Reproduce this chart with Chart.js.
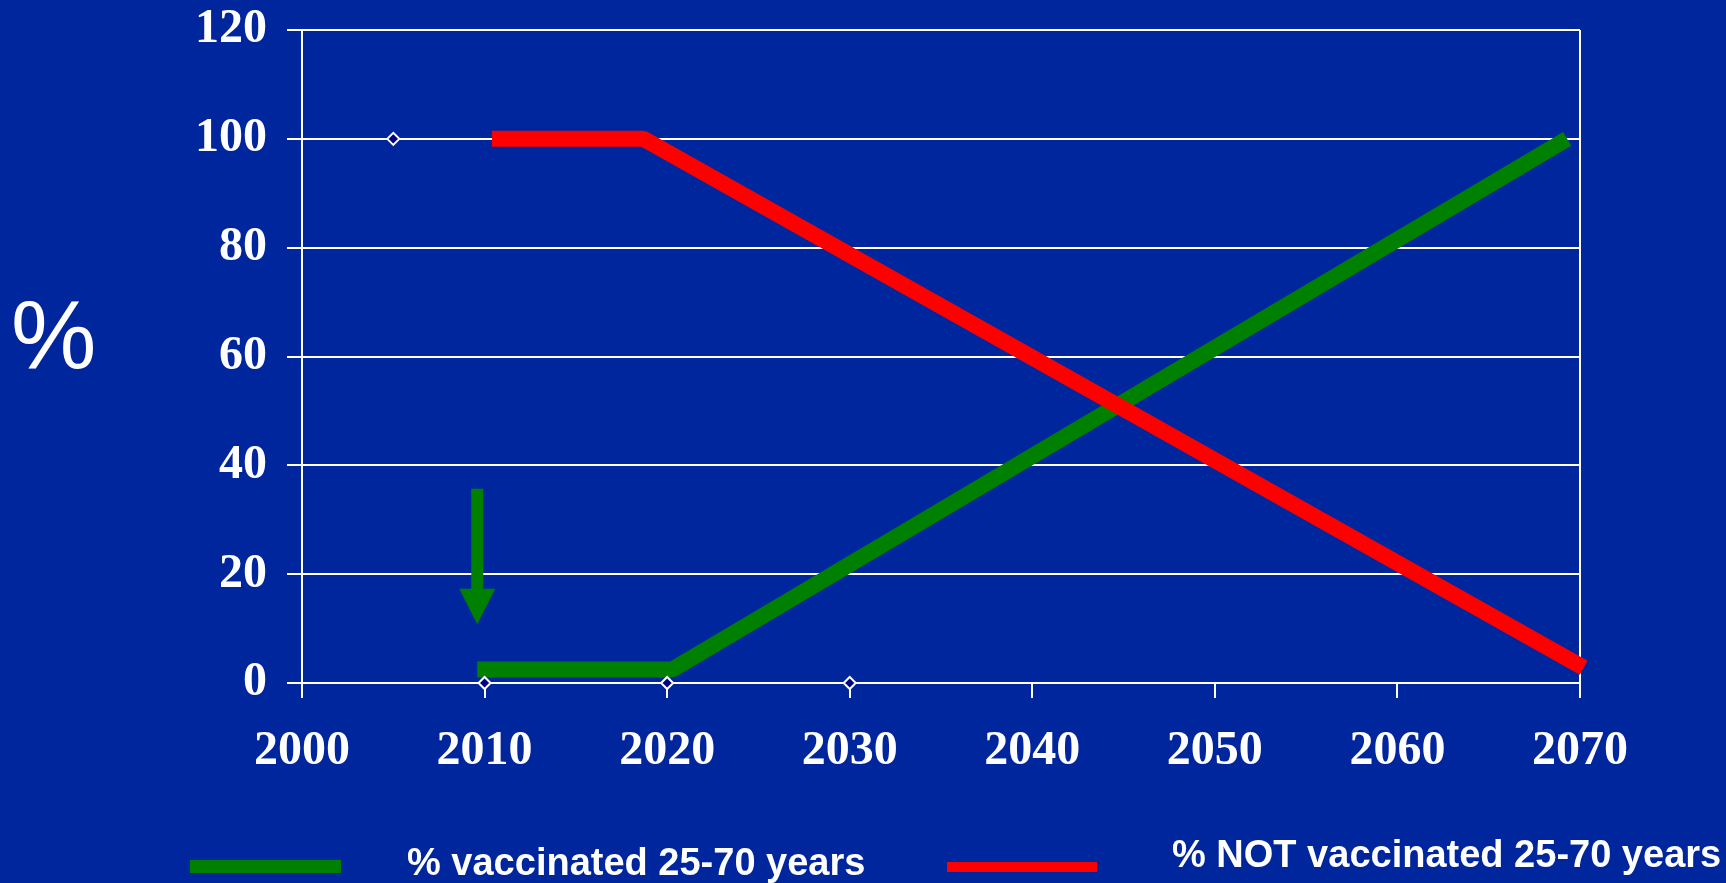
<!DOCTYPE html>
<html>
<head>
<meta charset="utf-8">
<script src="https://cdn.jsdelivr.net/npm/chart.js@4/dist/chart.umd.min.js"></script>
<style>
  html, body { margin: 0; padding: 0; background: #00269e; }
  #wrap { width: 1726px; height: 883px; position: relative; }
</style>
</head>
<body>
<div id="wrap"><canvas id="vaccChart"></canvas></div>
<script>
// axis ticks
var xTicks = [2000, 2010, 2020, 2030, 2040, 2050, 2060, 2070];
var yTicks = [0, 20, 40, 60, 80, 100, 120];

// % vaccinated 25-70 years
var vaccYears = [2009.6, 2020.3, 2069.3];
var vaccPct = [2.5, 2.5, 100];

// % NOT vaccinated 25-70 years
var notVaccYears = [2010.4, 2018.7, 2070.2];
var notVaccPct = [100, 100, 2.8];

// small diamond markers
var markerYears = [2005, 2010, 2020, 2030];
var markerPct = [100, 0, 0, 0];

// green arrow (year, top %, tip %)
var arrowYear = 2009.6;
var arrowTop = 35.7;
var arrowTip = 10.8;
var arrowHeadBase = 17.3;

function toPoints(xs, ys) {
    return xs.map(function (x, i) { return { x: x, y: ys[i] }; });
}

var chartDecor = {
    id: 'chartDecor',
    beforeDatasetsDraw: function (chart) {
        var ctx = chart.ctx;
        var area = chart.chartArea;
        ctx.save();
        ctx.strokeStyle = '#ffffff';
        ctx.lineWidth = 2;
        ctx.beginPath();
        ctx.moveTo(area.right, area.top);
        ctx.lineTo(area.right, area.bottom);
        ctx.stroke();
        ctx.restore();
    },
    afterDraw: function (chart) {
        var ctx = chart.ctx;
        var xs = chart.scales.x;
        var ys = chart.scales.y;
        ctx.save();

        // arrow
        var ax = xs.getPixelForValue(arrowYear);
        var top = ys.getPixelForValue(arrowTop);
        var tip = ys.getPixelForValue(arrowTip);
        var base = ys.getPixelForValue(arrowHeadBase);
        ctx.fillStyle = '#008000';
        ctx.fillRect(ax - 6, top, 12, base - top + 1);
        ctx.beginPath();
        ctx.moveTo(ax - 18, base);
        ctx.lineTo(ax + 18, base);
        ctx.lineTo(ax, tip);
        ctx.closePath();
        ctx.fill();

        // y title
        ctx.fillStyle = '#ffffff';
        ctx.font = '96px "Liberation Sans", Arial, sans-serif';
        ctx.textAlign = 'left';
        ctx.textBaseline = 'alphabetic';
        ctx.fillText('%', 11, 368);

        // legend
        var ds = chart.data.datasets;
        var items = [
            { d: ds[2], box: [190, 860, 151, 13], tx: 407, ty: 875 },
            { d: ds[1], box: [947, 862, 150, 10], tx: 1172, ty: 867 }
        ];
        ctx.font = 'bold 38px "Liberation Sans", Arial, sans-serif';
        items.forEach(function (it) {
            ctx.fillStyle = it.d.borderColor;
            ctx.fillRect(it.box[0], it.box[1], it.box[2], it.box[3]);
            ctx.fillStyle = '#ffffff';
            ctx.fillText(it.d.label, it.tx, it.ty);
        });
        ctx.restore();
    }
};

var tickFont = { family: '"Liberation Serif", "Times New Roman", serif', size: 48, weight: 'bold' };

var config = {
    type: 'line',
    data: {
        datasets: [
            {
                label: 'markers',
                data: toPoints(markerYears, markerPct),
                showLine: false,
                pointStyle: 'rectRot',
                pointRadius: 6,
                borderWidth: 2,
                borderColor: '#ffffff',
                backgroundColor: '#000080',
                order: 0,
                clip: false
            },
            {
                label: '% NOT vaccinated 25-70 years',
                data: toPoints(notVaccYears, notVaccPct),
                borderColor: '#ff0000',
                backgroundColor: '#ff0000',
                borderWidth: 16,
                borderCapStyle: 'butt',
                borderJoinStyle: 'bevel',
                pointRadius: 0,
                tension: 0,
                fill: false,
                order: 1,
                clip: false
            },
            {
                label: '% vaccinated 25-70 years',
                data: toPoints(vaccYears, vaccPct),
                borderColor: '#008000',
                backgroundColor: '#008000',
                borderWidth: 16,
                borderCapStyle: 'butt',
                borderJoinStyle: 'bevel',
                pointRadius: 0,
                tension: 0,
                fill: false,
                order: 2,
                clip: false
            }
        ]
    },
    options: {
        responsive: true,
        maintainAspectRatio: false,
        animation: false,
        layout: {
            padding: { left: 0, right: 146, top: 30, bottom: 0 }
        },
        scales: {
            x: {
                type: 'linear',
                min: xTicks[0],
                max: xTicks[xTicks.length - 1],
                afterBuildTicks: function (axis) {
                    axis.ticks = xTicks.map(function (v) { return { value: v }; });
                },
                afterFit: function (axis) {
                    axis.height = 200;
                    axis.paddingLeft = 0;
                    axis.paddingRight = 0;
                },
                ticks: {
                    color: '#ffffff',
                    font: tickFont,
                    padding: 25,
                    maxRotation: 0,
                    autoSkip: false,
                    callback: function (value) { return String(value); }
                },
                grid: {
                    drawOnChartArea: false,
                    drawTicks: true,
                    tickLength: 15,
                    color: '#ffffff',
                    lineWidth: 2
                },
                border: { display: true, color: '#ffffff', width: 2 }
            },
            y: {
                min: yTicks[0],
                max: yTicks[yTicks.length - 1],
                afterBuildTicks: function (axis) {
                    axis.ticks = yTicks.map(function (v) { return { value: v }; });
                },
                afterFit: function (axis) {
                    axis.width = 302;
                    axis.paddingTop = 0;
                    axis.paddingBottom = 0;
                },
                ticks: {
                    color: '#ffffff',
                    font: tickFont,
                    padding: 20
                },
                grid: {
                    color: '#ffffff',
                    lineWidth: 2,
                    tickLength: 15
                },
                border: { display: true, color: '#ffffff', width: 2 }
            }
        },
        plugins: {
            legend: { display: false },
            tooltip: { enabled: false }
        }
    },
    plugins: [chartDecor]
};

var ctx = document.getElementById('vaccChart').getContext('2d');
var chart = new Chart(ctx, config);
</script>
</body>
</html>
